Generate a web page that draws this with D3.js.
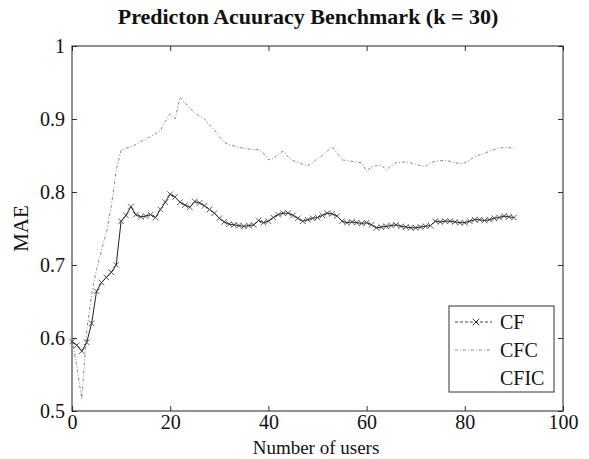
<!DOCTYPE html>
<html>
<head>
<meta charset="utf-8">
<script src="https://cdn.jsdelivr.net/npm/d3@7"></script>
<style>
  body { margin: 0; background: #fff; }
  svg { font-family: "Liberation Serif", "DejaVu Serif", serif; }
</style>
</head>
<body>
<svg id="chart" width="589" height="459"></svg>
<script>
// values, one per user count 0..90
var users = d3.range(0, 91);

var cfMae = [0.595, 0.59, 0.582, 0.594, 0.62, 0.664, 0.676, 0.683, 0.69, 0.70,
  0.76, 0.768, 0.78, 0.769, 0.766, 0.767, 0.769, 0.765, 0.776, 0.786,
  0.797, 0.793, 0.786, 0.782, 0.779, 0.787, 0.785, 0.781, 0.776, 0.771,
  0.764, 0.759, 0.756, 0.755, 0.754, 0.753, 0.754, 0.755, 0.761, 0.758,
  0.76, 0.765, 0.769, 0.771, 0.771, 0.768, 0.764, 0.76, 0.762, 0.764,
  0.765, 0.768, 0.771, 0.77, 0.767, 0.76, 0.758, 0.759, 0.758, 0.757,
  0.758, 0.755, 0.751, 0.752, 0.753, 0.754, 0.755, 0.753, 0.752, 0.751,
  0.751, 0.752, 0.753, 0.754, 0.76, 0.759, 0.76, 0.76, 0.759, 0.758,
  0.758, 0.76, 0.762, 0.762, 0.761, 0.762, 0.764, 0.765, 0.767, 0.766, 0.765];

var cfcMae = [0.60, 0.56, 0.516, 0.61, 0.66, 0.694, 0.72, 0.744, 0.78, 0.83,
  0.857, 0.86, 0.862, 0.865, 0.869, 0.872, 0.876, 0.88, 0.884, 0.897,
  0.907, 0.90, 0.93, 0.922, 0.915, 0.908, 0.904, 0.90, 0.892, 0.885,
  0.876, 0.868, 0.865, 0.863, 0.861, 0.86, 0.859, 0.858, 0.858, 0.853,
  0.844, 0.846, 0.852, 0.856, 0.848, 0.843, 0.841, 0.838, 0.836, 0.84,
  0.846, 0.85, 0.856, 0.862, 0.853, 0.844, 0.843, 0.842, 0.841, 0.84,
  0.828, 0.835, 0.836, 0.837, 0.83, 0.836, 0.84, 0.841, 0.841, 0.84,
  0.838, 0.836, 0.835, 0.84, 0.842, 0.843, 0.843, 0.842, 0.84, 0.839,
  0.84, 0.844, 0.848, 0.851, 0.853, 0.856, 0.858, 0.86, 0.861, 0.861, 0.859];

var xTicks = [0, 20, 40, 60, 80, 100];
var yTicks = [0.5, 0.6, 0.7, 0.8, 0.9, 1];
var seriesNames = ["CF", "CFC", "CFIC"];

var svg = d3.select("#chart");
var plotLeft = 72, plotRight = 563, plotTop = 46, plotBottom = 411;

var x = d3.scaleLinear().domain([0, 100]).range([plotLeft, plotRight]);
var y = d3.scaleLinear().domain([0.5, 1]).range([plotBottom, plotTop]);

// axes, matlab style: ticks inside on all four sides
svg.append("g")
  .attr("transform", "translate(0," + plotBottom + ")")
  .call(d3.axisBottom(x).tickValues(xTicks).tickSizeInner(-5).tickSizeOuter(0).tickPadding(4))
  .call(function(g){ g.select(".domain").remove(); });
svg.append("g")
  .attr("transform", "translate(0," + plotTop + ")")
  .call(d3.axisTop(x).tickValues(xTicks).tickSizeInner(-5).tickSizeOuter(0).tickFormat(""))
  .call(function(g){ g.select(".domain").remove(); });
svg.append("g")
  .attr("transform", "translate(" + plotLeft + ",0)")
  .call(d3.axisLeft(y).tickValues(yTicks).tickSizeInner(-5).tickSizeOuter(0).tickPadding(7).tickFormat(d3.format("~g")))
  .call(function(g){ g.select(".domain").remove(); });
svg.append("g")
  .attr("transform", "translate(" + plotRight + ",0)")
  .call(d3.axisRight(y).tickValues(yTicks).tickSizeInner(-5).tickSizeOuter(0).tickFormat(""))
  .call(function(g){ g.select(".domain").remove(); });

svg.selectAll(".tick text").attr("font-size", 20).attr("fill", "#111")
  .attr("font-family", "Liberation Serif");
svg.selectAll(".tick line").attr("stroke", "#333");

svg.append("rect")
  .attr("x", plotLeft).attr("y", plotTop)
  .attr("width", plotRight - plotLeft).attr("height", plotBottom - plotTop)
  .attr("fill", "none").attr("stroke", "#222").attr("stroke-width", 1);

// CFC line
var lineCfc = d3.line().x(function(d, i){ return x(users[i]); }).y(function(d){ return y(d); });
svg.append("path")
  .datum(cfcMae)
  .attr("d", lineCfc)
  .attr("fill", "none")
  .attr("stroke", "#888")
  .attr("stroke-width", 1)
  .attr("stroke-dasharray", "3,2,1,2");

// CF line with x markers
var lineCf = d3.line().x(function(d, i){ return x(users[i]); }).y(function(d){ return y(d); });
svg.append("path")
  .datum(cfMae)
  .attr("d", lineCf)
  .attr("fill", "none")
  .attr("stroke", "#222")
  .attr("stroke-width", 1);

var cross = d3.symbol().type(d3.symbolX).size(22);
svg.append("g")
  .selectAll("path")
  .data(cfMae)
  .enter()
  .append("path")
  .attr("d", cross)
  .attr("transform", function(d, i){ return "translate(" + x(users[i]) + "," + y(d) + ")"; })
  .attr("fill", "none")
  .attr("stroke", "#333")
  .attr("stroke-width", 0.8);

// legend
var lg = svg.append("g");
lg.append("rect")
  .attr("x", 449).attr("y", 306).attr("width", 105).attr("height", 86)
  .attr("fill", "#fff").attr("stroke", "#333").attr("stroke-width", 1);

var rows = lg.selectAll("g.row")
  .data(seriesNames)
  .enter()
  .append("g")
  .attr("transform", function(d, i){ return "translate(0," + (322 + i * 28) + ")"; });

rows.append("text")
  .attr("x", 500).attr("y", 7)
  .attr("font-size", 20)
  .attr("fill", "#111")
  .text(function(d){ return d; });

rows.filter(function(d){ return d == "CF"; })
  .append("line")
  .attr("x1", 455).attr("x2", 492).attr("y1", 0).attr("y2", 0)
  .attr("stroke", "#444").attr("stroke-dasharray", "3,2");
rows.filter(function(d){ return d == "CF"; })
  .append("path")
  .attr("d", d3.symbol().type(d3.symbolX).size(30))
  .attr("transform", "translate(476,0)")
  .attr("stroke", "#333").attr("fill", "none");
rows.filter(function(d){ return d == "CFC"; })
  .append("line")
  .attr("x1", 455).attr("x2", 492).attr("y1", 0).attr("y2", 0)
  .attr("stroke", "#888").attr("stroke-dasharray", "3,2,1,2");

// titles
svg.append("text")
  .attr("x", 308).attr("y", 24)
  .attr("text-anchor", "middle")
  .attr("font-size", 22).attr("font-weight", "bold")
  .attr("fill", "#111")
  .text("Predicton Acuuracy Benchmark (k = 30)");

svg.append("text")
  .attr("x", 316).attr("y", 454)
  .attr("text-anchor", "middle")
  .attr("font-size", 19)
  .attr("fill", "#111")
  .text("Number of users");

svg.append("text")
  .attr("transform", "translate(28," + ((plotTop + plotBottom) / 2) + ") rotate(-90)")
  .attr("text-anchor", "middle")
  .attr("font-size", 21)
  .attr("fill", "#111")
  .text("MAE");
</script>
</body>
</html>
